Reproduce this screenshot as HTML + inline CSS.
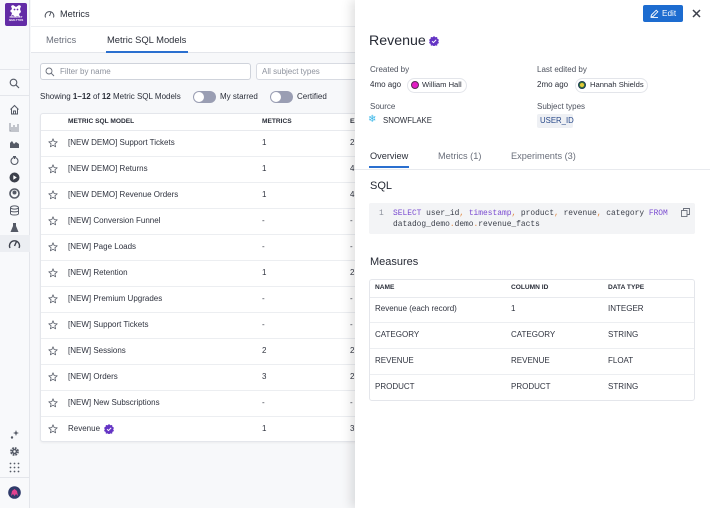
<!DOCTYPE html>
<html><head><meta charset="utf-8">
<style>
*{box-sizing:border-box;margin:0;padding:0}
html,body{width:710px;height:508px;overflow:hidden;background:#f7f8fa;font-family:"Liberation Sans",Arial,sans-serif;color:#2a2e39}
.a{position:absolute}
.t{position:absolute;white-space:nowrap;line-height:12px;font-size:8px}
.b{font-weight:bold}
.mono{font-family:"Liberation Mono",monospace}
</style></head><body>

<!-- Sidebar -->
<div class="a" style="left:0;top:0;width:30px;height:508px;background:#f8f9fb;border-right:1px solid #e4e6eb"></div>
<div class="a" style="left:5px;top:3px;width:22px;height:23px;background:#632ca6;border-radius:2px"></div>
<svg class="a" style="left:8px;top:4px" width="16" height="15" viewBox="0 0 16 15">
<path d="M3 2 L5 1 L8 3 L11 1 L13 2 L12 5 L13 8 L11 10 L12 13 L9 12 L7 13 L5 11 L3 12 L4 9 L2 7 L4 5 Z" fill="#fff"/>
<circle cx="6.5" cy="5.5" r="0.9" fill="#632ca6"/><circle cx="9.5" cy="5.5" r="0.9" fill="#632ca6"/>
</svg>
<div class="t" style="left:5px;top:16px;width:22px;text-align:center;font-size:2.6px;line-height:3px;color:#fff;font-weight:bold">PRODUCT<br>ANALYTICS</div>
<div class="a" style="left:0;top:69px;width:30px;height:1px;background:#e4e6eb"></div>
<div class="a" style="left:0;top:95px;width:30px;height:1px;background:#e4e6eb"></div>
<svg class="a" style="left:9px;top:78px" width="11" height="11" viewBox="0 0 11 11"><circle cx="4.5" cy="4.5" r="3.3" fill="none" stroke="#555a66" stroke-width="1.1"/><path d="M7 7 L10 10" stroke="#555a66" stroke-width="1.2"/></svg>
<svg class="a" style="left:9px;top:104px" width="11" height="11" viewBox="0 0 11 11"><path d="M1.5 5.5 L5.5 1.5 L9.5 5.5 M2.5 4.5 V10 H8.5 V4.5 M4.5 10 V7 H6.5 V10" fill="none" stroke="#555a66" stroke-width="1"/></svg>
<svg class="a" style="left:9px;top:122px" width="11" height="10" viewBox="0 0 11 10"><path d="M1 1 V9 H10" fill="none" stroke="#8a8f9b" stroke-width="1"/><path d="M3 8 V5 M5 8 V3 M7 8 V5 M9 8 V2" stroke="#8a8f9b" stroke-width="1"/></svg>
<svg class="a" style="left:9px;top:139px" width="11" height="9" viewBox="0 0 11 9"><path d="M1 8 L1 4 L3 2 L5 5 L7 3 L10 5 L10 8 Z" fill="#555a66"/><path d="M1 8.5 H10" stroke="#555a66"/></svg>
<svg class="a" style="left:9px;top:155px" width="11" height="11" viewBox="0 0 11 11"><circle cx="5.5" cy="6" r="3.5" fill="none" stroke="#555a66" stroke-width="1.1"/><path d="M5.5 1 V4 M4 1.5 H7" stroke="#555a66" stroke-width="1"/></svg>
<svg class="a" style="left:9px;top:172px" width="11" height="11" viewBox="0 0 11 11"><circle cx="5.5" cy="5.5" r="5" fill="#3d414c"/><path d="M4.3 3.2 L7.8 5.5 L4.3 7.8 Z" fill="#fff"/></svg>
<svg class="a" style="left:9px;top:188px" width="11" height="11" viewBox="0 0 11 11"><circle cx="5.5" cy="5.5" r="4.5" fill="none" stroke="#555a66" stroke-width="1.6"/><circle cx="5.5" cy="4.5" r="2" fill="#555a66"/></svg>
<svg class="a" style="left:9px;top:205px" width="11" height="11" viewBox="0 0 11 11"><ellipse cx="5.5" cy="2.5" rx="4" ry="1.6" fill="none" stroke="#555a66"/><path d="M1.5 2.5 V8.5 C1.5 10.5 9.5 10.5 9.5 8.5 V2.5 M1.5 5.5 C1.5 7.3 9.5 7.3 9.5 5.5" fill="none" stroke="#555a66"/></svg>
<svg class="a" style="left:9px;top:222px" width="11" height="11" viewBox="0 0 11 11"><path d="M4 1 V4 L1.5 10 H9.5 L7 4 V1 Z" fill="#555a66"/></svg>
<div class="a" style="left:0;top:235px;width:30px;height:17px;background:#eceef2"></div>
<svg class="a" style="left:8px;top:238px" width="13" height="11" viewBox="0 0 13 11"><path d="M2 10 A5 5 0 1 1 11 10" fill="none" stroke="#3d414c" stroke-width="1.4"/><path d="M6.5 8 L8.5 3.5" stroke="#3d414c" stroke-width="1.4"/></svg>
<svg class="a" style="left:9px;top:429px" width="11" height="11" viewBox="0 0 11 11"><path d="M7 1 L7.8 3.2 L10 4 L7.8 4.8 L7 7 L6.2 4.8 L4 4 L6.2 3.2 Z" fill="#555a66"/><circle cx="3" cy="8.5" r="1.2" fill="#555a66"/></svg>
<svg class="a" style="left:9px;top:446px" width="11" height="11" viewBox="0 0 11 11"><circle cx="5.5" cy="5.5" r="3.2" fill="none" stroke="#555a66" stroke-width="2.4" stroke-dasharray="1.6 0.9"/><circle cx="5.5" cy="5.5" r="2.6" fill="#555a66"/><circle cx="5.5" cy="5.5" r="1.2" fill="#f8f9fb"/></svg>
<svg class="a" style="left:9px;top:462px" width="11" height="11" viewBox="0 0 11 11" fill="#555a66"><circle cx="1.5" cy="1.5" r=".9"/><circle cx="5.5" cy="1.5" r=".9"/><circle cx="9.5" cy="1.5" r=".9"/><circle cx="1.5" cy="5.5" r=".9"/><circle cx="5.5" cy="5.5" r=".9"/><circle cx="9.5" cy="5.5" r=".9"/><circle cx="1.5" cy="9.5" r=".9"/><circle cx="5.5" cy="9.5" r=".9"/><circle cx="9.5" cy="9.5" r=".9"/></svg>
<div class="a" style="left:0;top:477px;width:30px;height:1px;background:#e4e6eb"></div>
<svg class="a" style="left:8px;top:486px" width="13" height="13" viewBox="0 0 13 13"><circle cx="6.5" cy="6.5" r="6.3" fill="#2f3a6a"/><path d="M3 10 L4 5 L6.5 3 L9 5 L10 10 L8 8 L6.5 10 L5 8 Z" fill="#e2428f"/></svg>

<!-- Main header -->
<div class="a" style="left:31px;top:0;width:679px;height:53px;background:#fff;border-bottom:1px solid #e4e6eb"></div>
<div class="a" style="left:31px;top:26px;width:679px;height:1px;background:#eceef1"></div>
<svg class="a" style="left:44px;top:9px" width="11" height="9" viewBox="0 0 11 9"><path d="M1.5 8.5 A4.3 4.3 0 1 1 9.5 8.5" fill="none" stroke="#4a4f5a" stroke-width="1"/><path d="M5.5 7 L7 3" stroke="#4a4f5a" stroke-width="1"/></svg>
<div class="t" style="left:60px;top:8px;font-size:9.2px;color:#2a2e39">Metrics</div>
<div class="t" style="left:46px;top:34px;font-size:9.4px;color:#6a6f7b">Metrics</div>
<div class="t" style="left:107px;top:34px;font-size:9.4px;color:#2a2e39">Metric SQL Models</div>
<div class="a" style="left:106px;top:51px;width:82px;height:2px;background:#2a6fcf"></div>

<!-- Filters -->
<div class="a" style="left:40px;top:63px;width:211px;height:17px;background:#fff;border:1px solid #cfd3db;border-radius:3px"></div>
<svg class="a" style="left:45px;top:67px" width="10" height="10" viewBox="0 0 10 10"><circle cx="4" cy="4" r="3" fill="none" stroke="#6a6f7b" stroke-width="0.9"/><path d="M6.2 6.2 L9 9" stroke="#6a6f7b" stroke-width="1"/></svg>
<div class="t" style="left:60px;top:66px;color:#8d929d">Filter by name</div>
<div class="a" style="left:256px;top:63px;width:120px;height:17px;background:#fff;border:1px solid #d8dbe2;border-radius:3px"></div>
<div class="t" style="left:262px;top:66px;color:#8d929d">All subject types</div>

<div class="t" style="left:40px;top:91px;color:#2a2e39">Showing <b>1–12</b> of <b>12</b> Metric SQL Models</div>
<div class="a" style="left:193px;top:91px;width:23px;height:12px;background:#9a9eb3;border-radius:6px"></div>
<div class="a" style="left:194px;top:92px;width:10px;height:10px;background:#fff;border-radius:50%"></div>
<div class="t" style="left:220px;top:91px;color:#2a2e39">My starred</div>
<div class="a" style="left:270px;top:91px;width:23px;height:12px;background:#9a9eb3;border-radius:6px"></div>
<div class="a" style="left:271px;top:92px;width:10px;height:10px;background:#fff;border-radius:50%"></div>
<div class="t" style="left:297px;top:91px;color:#2a2e39">Certified</div>

<!-- Main table -->
<div class="a" style="left:40px;top:113px;width:340px;height:329px;background:#fff;border:1px solid #e4e6eb;border-radius:3px;box-shadow:0 1px 2px rgba(0,0,0,0.05)"></div>
<div class="t b" style="left:68px;top:116px;font-size:6.6px;color:#2a2e39">METRIC SQL MODEL</div>
<div class="t b" style="left:262px;top:116px;font-size:6.6px;color:#2a2e39">METRICS</div>
<div class="t b" style="left:350px;top:116px;font-size:6.6px;color:#2a2e39">EXPERIMENTS</div>
<div class="a" style="left:41px;top:130px;width:340px;height:1px;background:#e8eaee"></div>

<div id="rows"></div>
<script>
(function(){
var rows=[["[NEW DEMO] Support Tickets","1","2"],["[NEW DEMO] Returns","1","4"],["[NEW DEMO] Revenue Orders","1","4"],["[NEW] Conversion Funnel","-","-"],["[NEW] Page Loads","-","-"],["[NEW] Retention","1","2"],["[NEW] Premium Upgrades","-","-"],["[NEW] Support Tickets","-","-"],["[NEW] Sessions","2","2"],["[NEW] Orders","3","2"],["[NEW] New Subscriptions","-","-"],["Revenue","1","3"]];
var h="";
for(var i=0;i<rows.length;i++){
 var c=143+26*i;
 h+='<svg class="a" style="left:48px;top:'+(c-5)+'px" width="10" height="10" viewBox="0 0 10 10"><path d="M5 0.8 L6.2 3.6 L9.2 3.8 L6.9 5.8 L7.6 8.8 L5 7.2 L2.4 8.8 L3.1 5.8 L0.8 3.8 L3.8 3.6 Z" fill="none" stroke="#5a5f6b" stroke-width="0.8" stroke-linejoin="round"/></svg>';
 h+='<div class="t" style="left:68px;top:'+(c-6)+'px;color:#2f333f">'+rows[i][0]+'</div>';
 h+='<div class="t" style="left:262px;top:'+(c-6)+'px;color:#2f333f">'+rows[i][1]+'</div>';
 h+='<div class="t" style="left:350px;top:'+(c-6)+'px;color:#2f333f">'+rows[i][2]+'</div>';
 if(i<rows.length-1) h+='<div class="a" style="left:41px;top:'+(c+13)+'px;width:340px;height:1px;background:#eceef1"></div>';
}
h+='<svg class="a" style="left:104px;top:424px" width="10" height="10" viewBox="0 0 10 10"><path d="M5 0 L6.3 1.2 L8.1 1 L8.4 2.8 L10 3.8 L9.2 5.4 L10 7 L8.4 7.9 L8.1 9.7 L6.3 9.4 L5 10.6 L3.7 9.4 L1.9 9.7 L1.6 7.9 L0 7 L0.8 5.4 L0 3.8 L1.6 2.8 L1.9 1 L3.7 1.2 Z" fill="#6434c4"/><path d="M3 5.2 L4.5 6.6 L7.2 3.8" fill="none" stroke="#fff" stroke-width="1"/></svg>';
document.getElementById("rows").outerHTML=h;
})();
</script>

<!-- Right panel -->
<div class="a" style="left:355px;top:0;width:355px;height:508px;background:#fff;box-shadow:-4px 0 10px rgba(0,0,0,0.12)"></div>
<div class="a" style="left:643px;top:5px;width:40px;height:17px;background:#1d6cd0;border-radius:2px"></div>
<svg class="a" style="left:650px;top:9px" width="9" height="9" viewBox="0 0 9 9"><path d="M1 8 L1.4 6 L6.2 1.2 L7.8 2.8 L3 7.6 Z M0.8 8.4 H8" fill="none" stroke="#fff" stroke-width="0.9"/></svg>
<div class="t" style="left:662px;top:8px;color:#fff;font-size:8.2px">Edit</div>
<svg class="a" style="left:692px;top:9px" width="9" height="9" viewBox="0 0 9 9"><path d="M1 1 L8 8 M8 1 L1 8" stroke="#3d414c" stroke-width="1.5"/></svg>

<div class="t" style="left:369px;top:32px;font-size:14.2px;line-height:18px;color:#262a35">Revenue</div>
<svg class="a" style="left:429px;top:36px" width="10" height="10" viewBox="0 0 10 10"><path d="M5 0 L6.3 1.2 L8.1 1 L8.4 2.8 L10 3.8 L9.2 5.4 L10 7 L8.4 7.9 L8.1 9.7 L6.3 9.4 L5 10.6 L3.7 9.4 L1.9 9.7 L1.6 7.9 L0 7 L0.8 5.4 L0 3.8 L1.6 2.8 L1.9 1 L3.7 1.2 Z" fill="#6434c4"/><path d="M3 5.2 L4.5 6.6 L7.2 3.8" fill="none" stroke="#fff" stroke-width="1"/></svg>

<div class="t" style="left:370px;top:64px;color:#4d525e">Created by</div>
<div class="t" style="left:370px;top:79px;color:#2a2e39">4mo ago</div>
<div class="a" style="left:407px;top:78px;width:60px;height:15px;border:1px solid #e3e5ea;border-radius:8px"></div>
<div class="a" style="left:411px;top:81px;width:8px;height:8px;border-radius:50%;background:#e21cc4;border:1px solid #5a2a55"></div>
<div class="t" style="left:422px;top:79px;color:#2a2e39;font-size:7.6px">William Hall</div>

<div class="t" style="left:537px;top:64px;color:#4d525e">Last edited by</div>
<div class="t" style="left:537px;top:79px;color:#2a2e39">2mo ago</div>
<div class="a" style="left:575px;top:78px;width:73px;height:15px;border:1px solid #e3e5ea;border-radius:8px"></div>
<div class="a" style="left:578px;top:81px;width:8px;height:8px;border-radius:50%;background:#3b7a3a;border:1px solid #1f3a55"></div>
<div class="a" style="left:580px;top:83px;width:4px;height:4px;border-radius:50%;background:#e6c93a"></div>
<div class="t" style="left:590px;top:79px;color:#2a2e39;font-size:7.6px">Hannah Shields</div>

<div class="t" style="left:370px;top:101px;color:#4d525e">Source</div>
<div class="t" style="left:368px;top:114px;color:#35b5e8;font-size:10px">❄</div>
<div class="t" style="left:383px;top:115px;color:#2a2e39;font-size:7.8px">SNOWFLAKE</div>
<div class="t" style="left:537px;top:101px;color:#4d525e">Subject types</div>
<div class="a" style="left:537px;top:114px;width:36px;height:14px;background:#eef0f4;border-radius:2px"></div>
<div class="t" style="left:540px;top:115px;color:#2a4a8a;font-size:7.8px">USER_ID</div>

<div class="t" style="left:370px;top:150px;font-size:9.2px;color:#2a2e39">Overview</div>
<div class="t" style="left:438px;top:150px;font-size:9.2px;color:#6a6f7b">Metrics (1)</div>
<div class="t" style="left:511px;top:150px;font-size:9.2px;color:#6a6f7b">Experiments (3)</div>
<div class="a" style="left:355px;top:169px;width:355px;height:1px;background:#e8eaee"></div>
<div class="a" style="left:369px;top:166px;width:40px;height:2px;background:#2a6fcf"></div>

<div class="t" style="left:370px;top:179px;font-size:11px;line-height:14px;color:#262a35">SQL</div>
<div class="a" style="left:369px;top:203px;width:326px;height:31px;background:#f3f4f6;border-radius:2px"></div>
<div class="t mono" style="left:379px;top:208px;font-size:7.9px;color:#8d929d">1</div>
<div class="t mono" style="left:393px;top:208px;font-size:7.9px;color:#3b3f4a"><span style="color:#7a4bd0">SELECT</span> user_id<span style="color:#e0843c">,</span> <span style="color:#7a4bd0">timestamp</span><span style="color:#e0843c">,</span> product<span style="color:#e0843c">,</span> revenue<span style="color:#e0843c">,</span> category <span style="color:#7a4bd0">FROM</span></div>
<div class="t mono" style="left:393px;top:219px;font-size:7.9px;color:#3b3f4a">datadog_demo<span style="color:#e0843c">.</span>demo<span style="color:#e0843c">.</span>revenue_facts</div>
<svg class="a" style="left:681px;top:208px" width="9" height="9" viewBox="0 0 9 9"><rect x="0.5" y="2.5" width="5.5" height="6" fill="#f3f4f6" stroke="#6a6f7b" stroke-width="0.9"/><path d="M2.5 2.5 V0.5 H8.5 V6.5 H6" fill="none" stroke="#6a6f7b" stroke-width="0.9"/></svg>

<div class="t" style="left:370px;top:255px;font-size:11px;line-height:14px;color:#262a35">Measures</div>
<div class="a" style="left:369px;top:279px;width:326px;height:122px;border:1px solid #e4e6eb;border-radius:3px"></div>
<div class="t b" style="left:375px;top:282px;font-size:6.6px;color:#2a2e39">NAME</div>
<div class="t b" style="left:511px;top:282px;font-size:6.6px;color:#2a2e39">COLUMN ID</div>
<div class="t b" style="left:608px;top:282px;font-size:6.6px;color:#2a2e39">DATA TYPE</div>
<div class="a" style="left:370px;top:297px;width:324px;height:1px;background:#e8eaee"></div>
<div class="t" style="left:375px;top:303px;color:#2f333f">Revenue (each record)</div>
<div class="t" style="left:511px;top:303px;color:#2f333f">1</div>
<div class="t" style="left:608px;top:303px;color:#2f333f">INTEGER</div>
<div class="a" style="left:370px;top:322px;width:324px;height:1px;background:#eceef1"></div>
<div class="t" style="left:375px;top:329px;color:#2f333f">CATEGORY</div>
<div class="t" style="left:511px;top:329px;color:#2f333f">CATEGORY</div>
<div class="t" style="left:608px;top:329px;color:#2f333f">STRING</div>
<div class="a" style="left:370px;top:348px;width:324px;height:1px;background:#eceef1"></div>
<div class="t" style="left:375px;top:355px;color:#2f333f">REVENUE</div>
<div class="t" style="left:511px;top:355px;color:#2f333f">REVENUE</div>
<div class="t" style="left:608px;top:355px;color:#2f333f">FLOAT</div>
<div class="a" style="left:370px;top:374px;width:324px;height:1px;background:#eceef1"></div>
<div class="t" style="left:375px;top:381px;color:#2f333f">PRODUCT</div>
<div class="t" style="left:511px;top:381px;color:#2f333f">PRODUCT</div>
<div class="t" style="left:608px;top:381px;color:#2f333f">STRING</div>

</body></html>
